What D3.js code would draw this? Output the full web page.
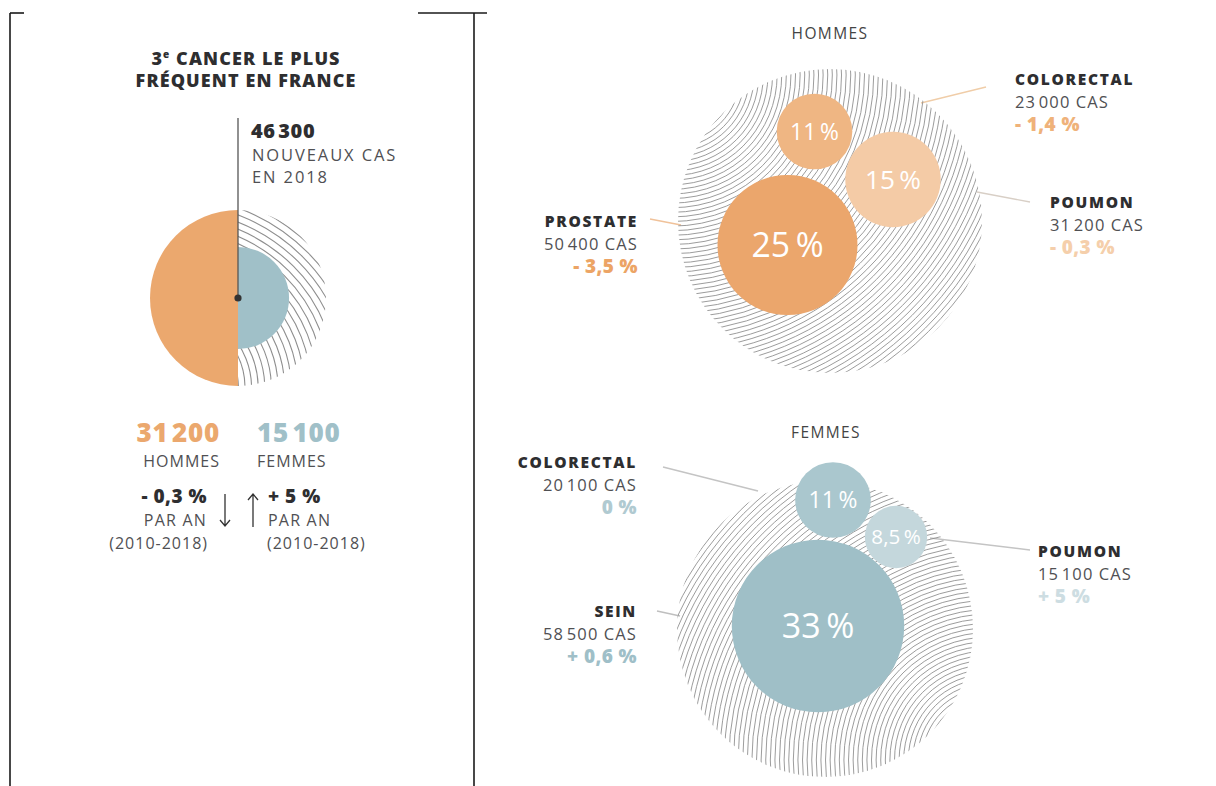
<!DOCTYPE html>
<html>
<head>
<meta charset="utf-8">
<script src="https://cdn.jsdelivr.net/npm/d3@7"></script>
<style>
  body { margin: 0; background: #fff; }
  svg { display: block; }
  text { font-family: "Open Sans", "Noto Sans", sans-serif; }
</style>
</head>
<body>
<svg id="chart" width="1216" height="786"></svg>
<script>
// ---- data ----
const sexes = ["HOMMES", "FEMMES"];
const newCases2018 = 46300;
const casesBySex = [31200, 15100];
const trendBySex = ["- 0,3 %", "+ 5 %"];

const hommesCancers = ["PROSTATE", "COLORECTAL", "POUMON"];
const hommesShare = [25, 11, 15];
const hommesCases = [50400, 23000, 31200];
const hommesTrend = ["- 3,5 %", "- 1,4 %", "- 0,3 %"];

const femmesCancers = ["SEIN", "COLORECTAL", "POUMON"];
const femmesShare = [33, 11, 8.5];
const femmesCases = [58500, 20100, 15100];
const femmesTrend = ["+ 0,6 %", "0 %", "+ 5 %"];

// ---- formatting (French) ----
const fr = d3.formatLocale({ decimal: ",", thousands: "\u200A", grouping: [3], currency: ["", " €"] });
const fmtInt = fr.format(",d");
const fmtPct = v => fr.format(",~r")(v) + "\u2009%";

const svg = d3.select("#chart");
const dark = "#2e2e30", grey = "#505053";

// ---- frame ----
const frame = svg.append("g").attr("stroke", "#1a1a1a").attr("stroke-width", 1.6);
frame.append("line").attr("x1", 10).attr("x2", 10).attr("y1", 13).attr("y2", 786);
frame.append("line").attr("x1", 474).attr("x2", 474).attr("y1", 13).attr("y2", 786);
frame.append("line").attr("x1", 10).attr("x2", 24).attr("y1", 13).attr("y2", 13);
frame.append("line").attr("x1", 418).attr("x2", 487).attr("y1", 13).attr("y2", 13);

// concentric hairlines clipped to a shape
let clipId = 0;
function hatch(g, clipPath, cx, cy, rMin, rMax, step, color, width) {
  const id = "clip" + (clipId++);
  svg.append("defs").append("clipPath").attr("id", id).append("path").attr("d", clipPath);
  const radii = d3.range(rMin, rMax, step);
  g.append("g").attr("clip-path", `url(#${id})`)
    .selectAll("circle").data(radii).join("circle")
    .attr("cx", cx).attr("cy", cy).attr("r", d => d)
    .attr("fill", "none").attr("stroke", color).attr("stroke-width", width);
}

// ================= left panel =================
const left = svg.append("g");
left.append("text").attr("x", 246).attr("y", 65).attr("text-anchor", "middle")
  .attr("font-size", 18).attr("font-weight", 800).attr("fill", dark).attr("letter-spacing", 1.1)
  .html('3<tspan font-size="10" dy="-7">e</tspan><tspan dy="7"> CANCER LE PLUS</tspan>');
left.append("text").attr("x", 246).attr("y", 87).attr("text-anchor", "middle")
  .attr("font-size", 18).attr("font-weight", 800).attr("fill", dark).attr("letter-spacing", 1.1)
  .text("FRÉQUENT EN FRANCE");

const lc = { x: 238, y: 298 };
const rSex = d3.scalePow().exponent(0.75).domain([0, casesBySex[0]]).range([0, 88]);
const sexColor = d3.scaleOrdinal().domain(sexes).range(["#eba86e", "#a0c0c8"]);

// hatched right half behind the femmes half-disc
const halfRight = d3.arc()({ innerRadius: 0, outerRadius: rSex(casesBySex[0]), startAngle: 0, endAngle: Math.PI });
const lg = left.append("g").attr("transform", `translate(${lc.x},${lc.y})`);
hatch(lg, halfRight, -66, 90, 40, 210, 6.6, "#8f8f8f", 1.1);

lg.selectAll("path.sex").data(sexes).join("path").attr("class", "sex")
  .attr("fill", d => sexColor(d))
  .attr("d", (d, i) => d3.arc()({
    innerRadius: 0, outerRadius: rSex(casesBySex[i]),
    startAngle: i === 0 ? Math.PI : 0, endAngle: i === 0 ? 2 * Math.PI : Math.PI }));

left.append("line").attr("x1", lc.x).attr("x2", lc.x).attr("y1", 118).attr("y2", lc.y)
  .attr("stroke", "#555").attr("stroke-width", 1.3);
left.append("circle").attr("cx", lc.x).attr("cy", lc.y).attr("r", 3.6).attr("fill", "#333");

left.append("text").attr("x", 251).attr("y", 138).attr("font-size", 20).attr("font-weight", 800)
  .attr("fill", dark).attr("letter-spacing", 0.6).text(fmtInt(newCases2018));
left.append("text").attr("x", 252).attr("y", 161).attr("font-size", 16.5).attr("fill", grey)
  .attr("letter-spacing", 1.9).text("NOUVEAUX CAS");
left.append("text").attr("x", 252).attr("y", 183).attr("font-size", 16.5).attr("fill", grey)
  .attr("letter-spacing", 1.9).text("EN 2018");

// totals by sex
const colX = [220, 257], anchors = ["end", "start"];
sexes.forEach((s, i) => {
  left.append("text").attr("x", colX[i]).attr("y", 442).attr("text-anchor", anchors[i])
    .attr("font-size", 26).attr("font-weight", 800).attr("fill", sexColor(s))
    .attr("letter-spacing", 0.8).text(fmtInt(casesBySex[i]));
  left.append("text").attr("x", colX[i]).attr("y", 467).attr("text-anchor", anchors[i])
    .attr("font-size", 16).attr("fill", grey).attr("letter-spacing", 1).text(s);
  const tx = i === 0 ? 207 : 268;
  left.append("text").attr("x", tx).attr("y", 503).attr("text-anchor", anchors[i])
    .attr("font-size", 19).attr("font-weight", 800).attr("fill", dark).attr("letter-spacing", 0.5)
    .text(trendBySex[i]);
  left.append("text").attr("x", tx).attr("y", 526).attr("text-anchor", anchors[i])
    .attr("font-size", 16).attr("fill", grey).attr("letter-spacing", 1.2).text("PAR AN");
  left.append("text").attr("x", i === 0 ? 208 : 267).attr("y", 549).attr("text-anchor", anchors[i])
    .attr("font-size", 16).attr("fill", grey).attr("letter-spacing", 1).text("(2010-2018)");
});
// trend arrows
const arrows = left.append("g").attr("stroke", "#333").attr("stroke-width", 1.3).attr("fill", "none");
arrows.append("path").attr("d", "M225,494 V526 M220,520 L225,526 L230,520");
arrows.append("path").attr("d", "M253,527 V494 M248,500 L253,494 L258,500");

// ================= bubble panels =================
const rShare = d3.scalePow().exponent(0.75).domain([0, hommesShare[0]]).range([0, 70]);

const panels = [
  {
    title: sexes[0], titleX: 830, titleY: 39,
    cx: 830, cy: 221, R: 152,
    hatchC: [-158, -146], step: 4.6,
    names: hommesCancers, share: hommesShare, cases: hommesCases, trend: hommesTrend,
    colors: ["#eba66c", "#efb683", "#f4cba6"],
    trendColors: ["#eca465", "#efb27a", "#f5cfab"],
    offsets: [[-42.5, 24], [-15.5, -89.5], [63, -41.5]],
    leaders: [[[650, 219], [681, 225]], [[921, 103], [986, 87]], [[977, 192], [1030, 202]]],
    leaderColors: ["#f0c29a", "#f0cda8", "#d8cfc6"],
    labels: [[638, 227, "end"], [1015, 85, "start"], [1050, 208, "start"]]
  },
  {
    title: sexes[1], titleX: 826, titleY: 438,
    cx: 825, cy: 629, R: 148,
    hatchC: [165, 131], step: 4.6,
    names: femmesCancers, share: femmesShare, cases: femmesCases, trend: femmesTrend,
    colors: ["#9fbfc7", "#aac7ce", "#c4d7dc"],
    trendColors: ["#9fbfc8", "#b0cad1", "#cddde2"],
    offsets: [[-7, -3], [8, -129], [71, -92]],
    leaders: [[[657, 611], [680, 616]], [[663, 467], [758, 491]], [[930, 538], [1030, 550]]],
    leaderColors: ["#bfbfbf", "#c4c4c4", "#c4c4c4"],
    labels: [[637, 617, "end"], [637, 468, "end"], [1038, 557, "start"]]
  }
];

panels.forEach(p => {
  const g = svg.append("g");
  g.append("text").attr("x", p.titleX).attr("y", p.titleY).attr("text-anchor", "middle")
    .attr("font-size", 15.5).attr("fill", "#444").attr("letter-spacing", 1.4).text(p.title);

  // leader lines
  g.selectAll("line.leader").data(p.leaders).join("line").attr("class", "leader")
    .attr("x1", d => d[0][0]).attr("y1", d => d[0][1]).attr("x2", d => d[1][0]).attr("y2", d => d[1][1])
    .attr("stroke", (d, i) => p.leaderColors[i]).attr("stroke-width", 1.4);

  // hatched disc
  const pg = g.append("g").attr("transform", `translate(${p.cx},${p.cy})`);
  const disc = d3.arc()({ innerRadius: 0, outerRadius: p.R, startAngle: 0, endAngle: 2 * Math.PI });
  const dc = Math.hypot(p.hatchC[0], p.hatchC[1]);
  hatch(pg, disc, p.hatchC[0], p.hatchC[1], Math.max(2, dc - p.R - 4), dc + p.R + 4, p.step, "#8a8a8a", 0.85);

  // bubbles
  const b = pg.selectAll("g.bubble").data(p.share).join("g").attr("class", "bubble")
    .attr("transform", (d, i) => `translate(${p.offsets[i][0]},${p.offsets[i][1]})`);
  b.append("circle").attr("r", d => rShare(d)).attr("fill", (d, i) => p.colors[i]);
  b.append("text").attr("text-anchor", "middle").attr("dy", "0.36em")
    .attr("font-size", d => Math.min(34, 10 + rShare(d) * 0.34)).attr("font-weight", 500)
    .attr("fill", "#fff")
    .text(d => fmtPct(d));

  // labels
  p.labels.forEach((l, i) => {
    const t = g.append("g");
    t.append("text").attr("x", l[0]).attr("y", l[1]).attr("text-anchor", l[2])
      .attr("font-size", 15.5).attr("font-weight", 800).attr("fill", dark).attr("letter-spacing", 1.7)
      .text(p.names[i]);
    t.append("text").attr("x", l[0]).attr("y", l[1] + 23).attr("text-anchor", l[2])
      .attr("font-size", 16.5).attr("fill", grey).attr("letter-spacing", 1.1)
      .text(fmtInt(p.cases[i]) + " CAS");
    t.append("text").attr("x", l[0]).attr("y", l[1] + 46).attr("text-anchor", l[2])
      .attr("font-size", 19).attr("font-weight", 800).attr("fill", p.trendColors[i]).attr("letter-spacing", 0.4)
      .text(p.trend[i]);
  });
});
</script>
</body>
</html>
